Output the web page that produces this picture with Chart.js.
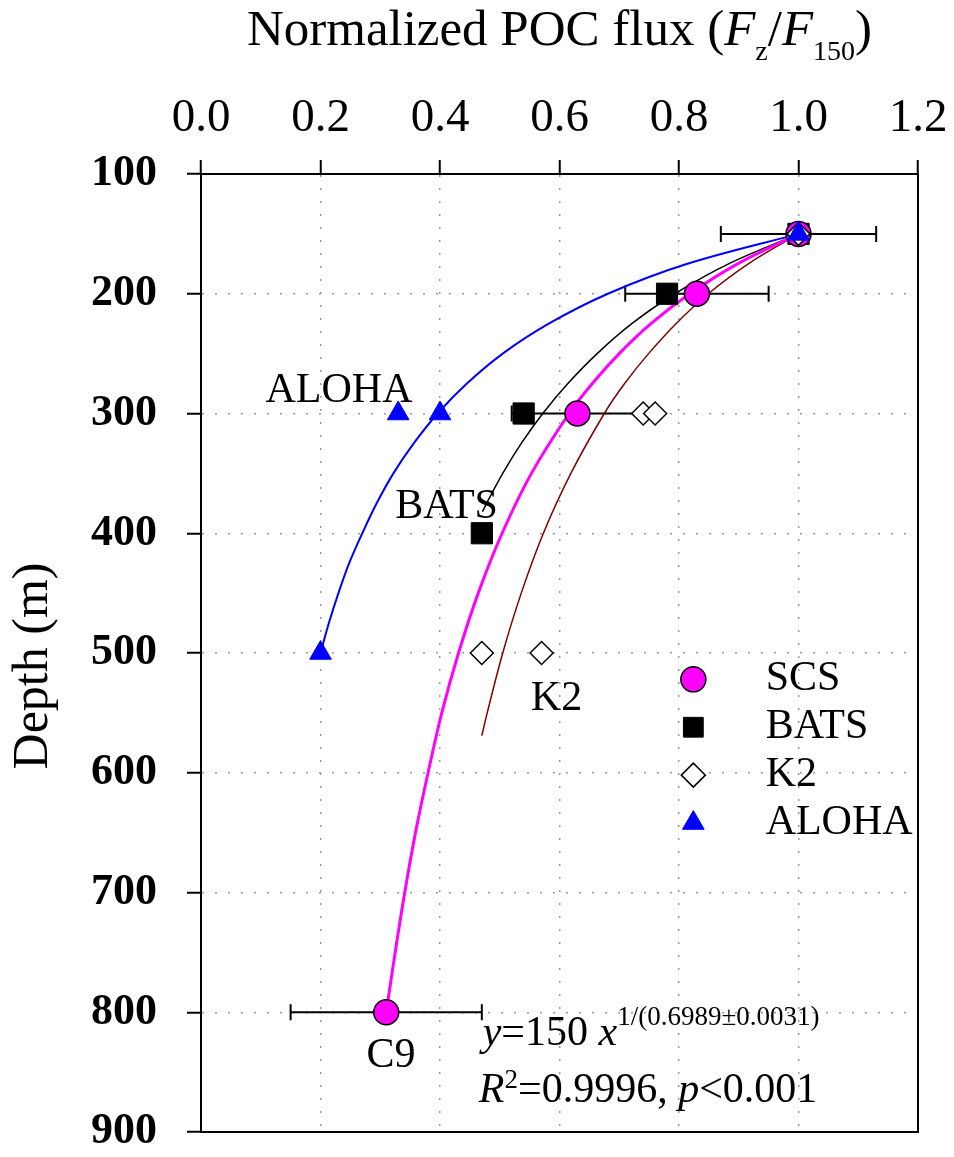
<!DOCTYPE html>
<html>
<head>
<meta charset="utf-8">
<title>Normalized POC flux</title>
<script src="https://cdn.jsdelivr.net/npm/chart.js@4.4.1/dist/chart.umd.min.js"></script>
<style>
  html, body { margin: 0; padding: 0; background: #fff; }
  #wrap { width: 954px; height: 1157px; }
</style>
</head>
<body>
<div id="wrap"><canvas id="fluxChart" width="954" height="1157"></canvas></div>
<script>
const FONT = "'Liberation Serif', 'Times New Roman', Times, serif";

// axis ticks
const xTicks = [0.0, 0.2, 0.4, 0.6, 0.8, 1.0, 1.2];
const yTicks = [100, 200, 300, 400, 500, 600, 700, 800, 900];

// measured points: depth (m) and F_z / F_150
const scsDepth = [150, 200, 300, 800];
const scsFlux = [1.0, 0.83, 0.63, 0.31];
const scsErr = [0.13, 0.12, 0.11, 0.16];

const batsDepth = [150, 200, 300, 400];
const batsFlux = [1.0, 0.78, 0.54, 0.47];

const k2Depth = [150, 300, 300, 500, 500];
const k2Flux = [1.0, 0.74, 0.76, 0.47, 0.57];

const alohaDepth = [150, 300, 300, 500];
const alohaFlux = [1.0, 0.33, 0.40, 0.20];

// fitted curves
const scsFitDepth = [150, 175, 200, 225, 250, 275, 300, 350, 400, 450, 500, 550, 600, 650, 700, 750, 800];
const scsFitFlux = [1.0, 0.898, 0.818, 0.753, 0.700, 0.655, 0.616, 0.553, 0.504, 0.464, 0.431, 0.403, 0.380, 0.359, 0.341, 0.325, 0.310];

const batsFitDepth = [150, 175, 200, 225, 250, 275, 300, 325, 350, 375, 382];
const batsFitFlux = [1.0, 0.883, 0.793, 0.721, 0.663, 0.614, 0.572, 0.536, 0.505, 0.478, 0.471];

const k2FitDepth = [150, 175, 200, 225, 250, 275, 300, 350, 400, 450, 500, 550, 569];
const k2FitFlux = [1.0, 0.916, 0.849, 0.795, 0.749, 0.709, 0.675, 0.619, 0.573, 0.536, 0.505, 0.479, 0.470];

const alohaFitDepth = [150, 175, 200, 225, 250, 275, 300, 325, 350, 375, 400, 425, 450, 475, 500];
const alohaFitFlux = [1.0, 0.814, 0.681, 0.582, 0.505, 0.445, 0.396, 0.356, 0.322, 0.294, 0.270, 0.248, 0.230, 0.214, 0.200];

function toPoints(flux, depth) {
  return flux.map((v, i) => ({ x: v, y: depth[i] }));
}

function markerSet(label, flux, depth, style, order) {
  return Object.assign({
    label,
    data: toPoints(flux, depth),
    showLine: false,
    order,
  }, style);
}

function fitLine(flux, depth, color, width) {
  return {
    label: "fit",
    data: toPoints(flux, depth),
    showLine: true,
    pointRadius: 0,
    borderColor: color,
    borderWidth: width,
    tension: 0.35,
    fill: false,
    order: 10,
  };
}

// draws text runs of mixed style on one baseline
function drawRuns(ctx, runs, x, y, align) {
  let total = 0;
  runs.forEach((r) => {
    ctx.font = r.font;
    r.w = ctx.measureText(r.text).width;
    total += r.w;
  });
  let cx = align === "center" ? x - total / 2 : x;
  ctx.textAlign = "left";
  ctx.textBaseline = "alphabetic";
  runs.forEach((r) => {
    ctx.font = r.font;
    ctx.fillText(r.text, cx, y + (r.dy || 0));
    cx += r.w;
  });
}

const reg = (s) => `${s}px ${FONT}`;
const ita = (s) => `italic ${s}px ${FONT}`;

const decorPlugin = {
  id: "decor",
  beforeDatasetsDraw(chart) {
    // horizontal error bars of SCS
    const { ctx, scales: { x, y } } = chart;
    ctx.save();
    ctx.strokeStyle = "#000";
    ctx.lineWidth = 2;
    scsDepth.forEach((d, i) => {
      const py = y.getPixelForValue(d);
      const x1 = x.getPixelForValue(scsFlux[i] - scsErr[i]);
      const x2 = x.getPixelForValue(scsFlux[i] + scsErr[i]);
      ctx.beginPath();
      ctx.moveTo(x1, py); ctx.lineTo(x2, py);
      ctx.moveTo(x1, py - 8); ctx.lineTo(x1, py + 8);
      ctx.moveTo(x2, py - 8); ctx.lineTo(x2, py + 8);
      ctx.stroke();
    });
    ctx.restore();
  },
  afterDraw(chart) {
    const { ctx, chartArea: a, scales: { x, y } } = chart;
    ctx.save();

    // frame
    ctx.strokeStyle = "#000";
    ctx.lineWidth = 2;
    ctx.strokeRect(a.left, a.top, a.right - a.left, a.bottom - a.top);

    ctx.fillStyle = "#000";

    // top title
    drawRuns(ctx, [
      { text: "Normalized POC flux (", font: reg(51) },
      { text: "F", font: ita(51) },
      { text: "z", font: reg(28), dy: 15 },
      { text: "/", font: reg(51) },
      { text: "F", font: ita(51) },
      { text: "150", font: reg(28), dy: 15 },
      { text: ")", font: reg(51) },
    ], (a.left + a.right) / 2, 45, "center");

    // y axis title
    ctx.save();
    ctx.translate(34, 666);
    ctx.rotate(-Math.PI / 2);
    ctx.font = reg(50);
    ctx.textAlign = "center";
    ctx.textBaseline = "middle";
    ctx.fillText("Depth (m)", 0, 0);
    ctx.restore();

    // site labels
    const labels = [["ALOHA", 0.231, 290.5], ["BATS", 0.411, 387.4], ["K2", 0.595, 547.8], ["C9", 0.318, 846]];
    ctx.font = reg(42);
    ctx.textAlign = "center";
    ctx.textBaseline = "alphabetic";
    labels.forEach(([t, fx, dz]) => ctx.fillText(t, x.getPixelForValue(fx), y.getPixelForValue(dz)));

    // fit equation
    drawRuns(ctx, [
      { text: "y", font: ita(42) },
      { text: "=150 ", font: reg(42) },
      { text: "x", font: ita(42) },
      { text: "1/(0.6989\u00b10.0031)", font: reg(27), dy: -20 },
    ], x.getPixelForValue(0.4715), y.getPixelForValue(827.7), "left");
    drawRuns(ctx, [
      { text: "R", font: ita(42) },
      { text: "2", font: reg(27), dy: -14 },
      { text: "=0.9996, ", font: reg(42) },
      { text: "p", font: ita(42) },
      { text: "<0.001", font: reg(42) },
    ], x.getPixelForValue(0.465), y.getPixelForValue(875.3), "left");

    // legend inside plot
    const markers = chart.data.datasets.filter((ds) => !ds.showLine);
    const mx = x.getPixelForValue(0.824);
    const tx = x.getPixelForValue(0.945);
    let py = y.getPixelForValue(522);
    const step = y.getPixelForValue(562) - py;
    markers.forEach((ds) => {
      ctx.fillStyle = ds.backgroundColor;
      ctx.strokeStyle = ds.borderColor;
      ctx.lineWidth = ds.borderWidth;
      if (Chart.helpers && Chart.helpers.drawPoint) {
        Chart.helpers.drawPoint(ctx, {
          pointStyle: ds.pointStyle, radius: ds.legendRadius || ds.pointRadius,
          rotation: 0, borderWidth: ds.borderWidth,
        }, mx, py);
      }
      ctx.fillStyle = "#000";
      ctx.font = reg(42);
      ctx.textAlign = "left";
      ctx.textBaseline = "middle";
      ctx.fillText(ds.label, tx, py);
      py += step;
    });

    ctx.restore();
  },
};

new Chart(document.getElementById("fluxChart"), {
  type: "scatter",
  data: {
    datasets: [
      markerSet("SCS", scsFlux, scsDepth, {
        pointStyle: "circle", pointRadius: 12.5, backgroundColor: "#FF00FF",
        borderColor: "#000", borderWidth: 1.5,
      }, 2),
      markerSet("BATS", batsFlux, batsDepth, {
        pointStyle: "rect", pointRadius: 15, legendRadius: 14, backgroundColor: "#000",
        borderColor: "#000", borderWidth: 1,
      }, 3),
      markerSet("K2", k2Flux, k2Depth, {
        pointStyle: "rectRot", pointRadius: 11.5, legendRadius: 12, backgroundColor: "#fff",
        borderColor: "#000", borderWidth: 1.5,
      }, 1),
      markerSet("ALOHA", alohaFlux, alohaDepth, {
        pointStyle: "triangle", pointRadius: 12.5, backgroundColor: "#0000FF",
        borderColor: "#0000FF", borderWidth: 1,
      }, 0),
      fitLine(scsFitFlux, scsFitDepth, "#FF00FF", 3),
      fitLine(batsFitFlux, batsFitDepth, "#000", 1.5),
      fitLine(k2FitFlux, k2FitDepth, "#800000", 1.5),
      fitLine(alohaFitFlux, alohaFitDepth, "#0000FF", 2),
    ],
  },
  options: {
    responsive: false,
    animation: false,
    events: [],
    layout: { padding: { left: 0, top: 0, right: 36, bottom: 25 } },
    plugins: {
      legend: { display: false },
      tooltip: { enabled: false },
      title: { display: false },
    },
    scales: {
      x: {
        type: "linear",
        position: "top",
        min: 0,
        max: 1.2,
        afterBuildTicks: (s) => { s.ticks = xTicks.map((v) => ({ value: v })); },
        afterFit: (s) => {
          s.height = 174;
          s.paddingLeft = 0;
          s.paddingRight = 0;
        },
        ticks: {
          color: "#000",
          font: { family: FONT, size: 47 },
          padding: 13,
          maxRotation: 0,
          callback: (v) => Number(v).toFixed(1),
        },
        grid: { color: "#9a9a9a", lineWidth: 1.5, tickColor: "#000", tickWidth: 2, tickLength: 14 },
        border: { display: true, color: "#000", width: 2, dash: [2, 11] },
      },
      y: {
        type: "linear",
        reverse: true,
        min: 100,
        max: 900,
        afterBuildTicks: (s) => { s.ticks = yTicks.map((v) => ({ value: v })); },
        afterFit: (s) => {
          s.width = 201;
          s.paddingTop = 0;
          s.paddingBottom = 0;
        },
        ticks: {
          color: "#000",
          font: { family: FONT, size: 44, weight: "bold", lineHeight: 1 },
          padding: 30,
        },
        grid: { color: "#9a9a9a", lineWidth: 1.5, tickColor: "#000", tickWidth: 2, tickLength: 14 },
        border: { display: true, color: "#000", width: 2, dash: [2, 11] },
      },
    },
  },
  plugins: [decorPlugin],
});
</script>
</body>
</html>
